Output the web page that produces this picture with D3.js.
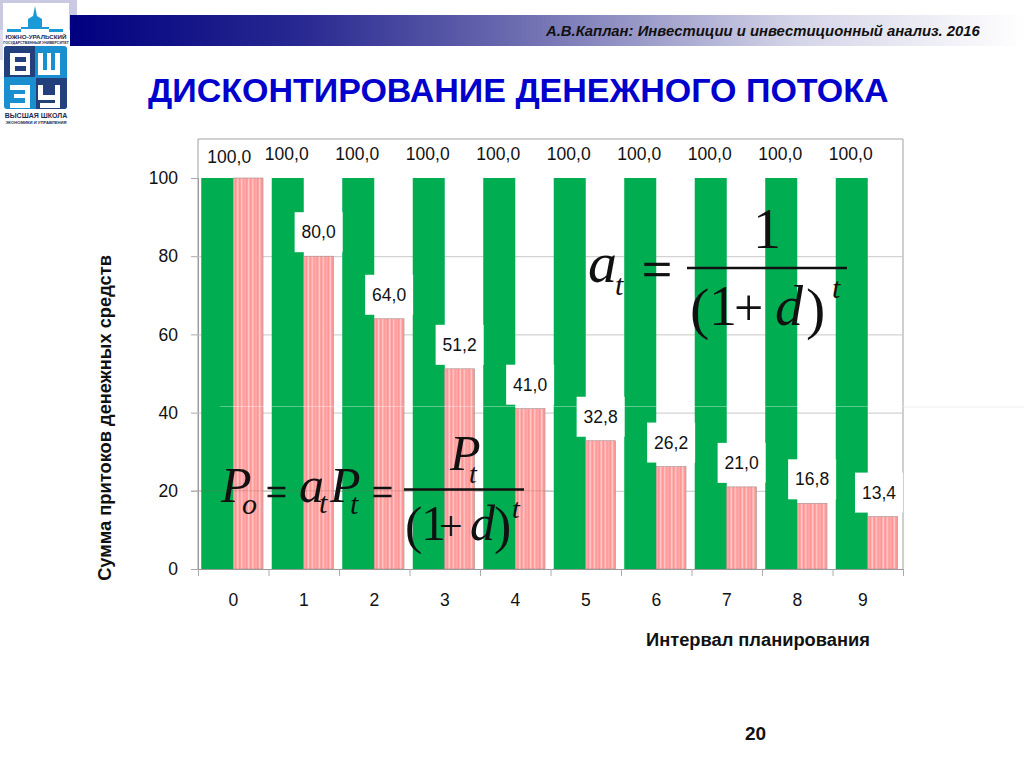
<!DOCTYPE html>
<html lang="ru">
<head>
    <meta charset="UTF-8">
    <title>Дисконтирование денежного потока</title>
    <script src="https://d3js.org/d3.v7.min.js"></script>
    <style>
        body { margin: 0; background: #fff; font-family: "Liberation Sans", Arial, sans-serif; }
        svg { display: block; }
        .tick text { font-family: "Liberation Sans", Arial, sans-serif; font-size: 17.5px; fill: #111; }
        .formula text { font-family: "Liberation Serif", "Times New Roman", serif; fill: #111; }
    </style>
</head>
<body>
    <svg width="1024" height="768"></svg>
    <script>
        // values
        const intervals = [0, 1, 2, 3, 4, 5, 6, 7, 8, 9];
        const inflow = [100, 100, 100, 100, 100, 100, 100, 100, 100, 100];
        const discounted = [100, 80, 64, 51.2, 41, 32.8, 26.2, 21, 16.8, 13.4];
        const yTicks = [0, 20, 40, 60, 80, 100];

        const svg = d3.select("svg");
        const plotLeft = 198, plotRight = 903, plotTop = 139, plotBottom = 569;
        const fmt = v => v.toFixed(1).replace(".", ",");

        const defs = svg.append("defs");
        const band = defs.append("linearGradient").attr("id", "band");
        [[0, "#000080"], [0.25, "#2a2a92"], [0.47, "#6c6cb0"], [0.76, "#d4d4e8"], [1, "#ffffff"]].forEach(s =>
            band.append("stop").attr("offset", s[0]).attr("stop-color", s[1]));

        // striped fill of the discounted bars
        const stripes = defs.append("pattern").attr("id", "stripes")
            .attr("patternUnits", "userSpaceOnUse").attr("width", 11).attr("height", 8);
        stripes.append("rect").attr("width", 11).attr("height", 8).attr("fill", "#ffa8a8");
        [[1, "#ff8f8f"], [3, "#ffd2d2"], [5, "#ff9090"], [7, "#ffc8c8"], [9, "#ff9a9a"]].forEach(s =>
            stripes.append("rect").attr("x", s[0]).attr("width", 1).attr("height", 8).attr("fill", s[1]));

        // header
        svg.append("rect").attr("width", 77).attr("height", 30).attr("fill", "#c9c9e2");
        svg.append("rect").attr("y", 30).attr("width", 10).attr("height", 30).attr("fill", "#dcdcec");
        svg.append("rect").attr("x", 70).attr("y", 15).attr("width", 954).attr("height", 31).attr("fill", "url(#band)");
        svg.append("text").attr("x", 546).attr("y", 36)
            .attr("font-size", 14.85).attr("font-weight", "bold").attr("font-style", "italic").attr("fill", "#111")
            .text("А.В.Каплан: Инвестиции и инвестиционный анализ. 2016");
        svg.append("text").attr("x", 148).attr("y", 102)
            .attr("font-size", 34).attr("font-weight", "bold").attr("fill", "#0000cc")
            .text("ДИСКОНТИРОВАНИЕ ДЕНЕЖНОГО ПОТОКА");

        // logo
        const logo = svg.append("g");
        logo.append("rect").attr("x", 3).attr("y", 3).attr("width", 66).attr("height", 123).attr("fill", "#fff");
        logo.append("path").attr("fill", "#1a9ad6")
            .attr("d", "M7 32H21V27H28V19L33 16L35 6L37 16L42 19V27H49V32H63V29H7Z");
        logo.append("text").attr("x", 36).attr("y", 39).attr("text-anchor", "middle")
            .attr("font-size", 6.2).attr("font-weight", "bold").attr("fill", "#1b2a52").text("ЮЖНО-УРАЛЬСКИЙ");
        logo.append("text").attr("x", 36).attr("y", 44).attr("text-anchor", "middle")
            .attr("font-size", 3.6).attr("font-weight", "bold").attr("fill", "#1b2a52").text("ГОСУДАРСТВЕННЫЙ УНИВЕРСИТЕТ");
        logo.append("rect").attr("x", 4).attr("y", 46).attr("width", 63).attr("height", 63).attr("rx", 3).attr("fill", "#1a8fd0");
        logo.append("path").attr("fill", "#21407c").attr("d", "M4 49Q4 46 7 46H35V77H4Z M36 78H67V106Q67 109 64 109H36Z");
        logo.append("path").attr("fill", "#fff").attr("fill-rule", "evenodd")
            .attr("d", "M10 53H30V75H10Z M15 57V62H26V57Z M15 66V71H26V66Z"
                + "M38 53H43V70H47V53H51V70H55V53H60V75H38Z"
                + "M10 85H30V108H10V103H25V98H14V94H25V90H10Z"
                + "M38 85H43V95H55V85H60V108H40V103H55V100H38Z");
        logo.append("text").attr("x", 36).attr("y", 118).attr("text-anchor", "middle")
            .attr("font-size", 7).attr("font-weight", "bold").attr("fill", "#1b2a52").text("ВЫСШАЯ ШКОЛА");
        logo.append("text").attr("x", 36).attr("y", 124).attr("text-anchor", "middle")
            .attr("font-size", 4.2).attr("font-weight", "bold").attr("fill", "#1b2a52").text("ЭКОНОМИКИ И УПРАВЛЕНИЯ");

        // scales
        const x = d3.scaleBand().domain(intervals).range([plotLeft, plotRight]).paddingInner(0.092).paddingOuter(0.046);
        const series = d3.scaleBand().domain(["inflow", "discounted"]).range([0, x.bandwidth()]);
        const pinkWidth = series.bandwidth() * 0.93;
        const y = d3.scaleLinear().domain([0, 100]).range([plotBottom, 178]);
        const tickPos = d3.scaleLinear().domain([0, intervals.length]).range([plotLeft, plotRight]);

        // frame and grid
        svg.append("path").attr("fill", "none").attr("stroke", "#a0a0a0")
            .attr("d", `M${plotLeft} ${plotBottom}V${plotTop}H${plotRight}V${plotBottom}`);

        const gy = svg.append("g").attr("transform", `translate(${plotLeft},0)`)
            .call(d3.axisLeft(y).tickValues(yTicks).tickSize(7).tickPadding(13));
        gy.select(".domain").attr("stroke", "#999");
        gy.selectAll(".tick line").attr("stroke", "#aaa");
        gy.selectAll(".tick").filter(d => d > 0 && d < 100).append("line")
            .attr("x2", plotRight - plotLeft).attr("stroke", "#c8c8c8");

        // bars
        const groups = svg.selectAll(".bars").data(intervals).enter().append("g")
            .attr("transform", d => `translate(${x(d)},0)`);
        groups.append("rect")
            .attr("x", series("inflow")).attr("width", series.bandwidth())
            .attr("y", (d, i) => y(inflow[i])).attr("height", (d, i) => plotBottom - y(inflow[i]))
            .attr("fill", "#00ad50");
        groups.append("rect")
            .attr("x", series("discounted")).attr("width", pinkWidth)
            .attr("y", (d, i) => y(discounted[i])).attr("height", (d, i) => plotBottom - y(discounted[i]))
            .attr("fill", "url(#stripes)").attr("stroke", "#a58a8a").attr("stroke-width", 0.6);

        // x axis
        const gx = svg.append("g").attr("transform", `translate(0,${plotBottom})`)
            .call(d3.axisBottom(tickPos).tickValues(d3.range(intervals.length + 1)).tickSize(7).tickFormat(""));
        gx.select(".domain").attr("stroke", "#999");
        gx.selectAll(".tick line").attr("stroke", "#aaa");
        const gl = svg.append("g").attr("transform", `translate(0,${plotBottom})`)
            .call(d3.axisBottom(x).tickSize(0).tickPadding(25));
        gl.select(".domain").remove();
        gl.selectAll(".tick text").attr("dx", d => d === 9 ? -5 : 0);

        // data labels; the two 100,0 of the first interval share one label
        const addLabel = (cx, cy, str, boxed) => {
            if (boxed) {
                const bx = Math.min(cx - 24, plotRight - 48);
                svg.append("rect").attr("x", bx).attr("y", cy - 20).attr("width", 48).attr("height", 40).attr("fill", "#fff");
                cx = bx + 24;
            }
            svg.append("text").attr("x", cx).attr("y", cy + 6).attr("text-anchor", "middle")
                .attr("font-size", 17.5).attr("fill", "#111").text(str);
        };
        intervals.forEach((d, i) => {
            const inner = i === 0 ? 12 : -1;
            addLabel(x(d) + series("inflow") + series.bandwidth() / 2 + inner, y(inflow[i]) - (i === 0 ? 21 : 24), fmt(inflow[i]), false);
        });
        intervals.forEach((d, i) => {
            if (i > 0) addLabel(x(d) + series("discounted") + pinkWidth / 2, y(discounted[i]) - 24, fmt(discounted[i]), true);
        });

        // faint pasted-in line across the slide
        svg.append("line").attr("x1", 220).attr("x2", 1024).attr("y1", 406.5).attr("y2", 406.5)
            .attr("stroke", "#fff").attr("stroke-opacity", 0.35).attr("stroke-width", 1);
        svg.append("line").attr("x1", 904).attr("x2", 1024).attr("y1", 407).attr("y2", 407)
            .attr("stroke", "#eee");
        svg.append("line").attr("x1", plotLeft - 7).attr("x2", plotRight - 350).attr("y1", y(20)).attr("y2", y(20))
            .attr("stroke", "#8a6a5a").attr("stroke-opacity", 0.3);

        // axis titles
        svg.append("text").attr("transform", "translate(111,418) rotate(-90)").attr("text-anchor", "middle")
            .attr("font-size", 18.3).attr("font-weight", "bold").attr("fill", "#111")
            .text("Сумма притоков денежных средств");
        svg.append("text").attr("x", 646).attr("y", 646)
            .attr("font-size", 18.3).attr("font-weight", "bold").attr("fill", "#111")
            .text("Интервал планирования");
        svg.append("text").attr("x", 745).attr("y", 740)
            .attr("font-size", 19).attr("font-weight", "bold").attr("fill", "#111").text("20");

        // formulas
        const formula = svg.append("g").attr("class", "formula");
        const put = (tx, ty, size, str, italic) => formula.append("text")
            .attr("x", tx).attr("y", ty).attr("font-size", size)
            .attr("font-style", italic ? "italic" : "normal").text(str);
        const rule = (x1, x2, ly) => formula.append("line")
            .attr("x1", x1).attr("x2", x2).attr("y1", ly).attr("y2", ly)
            .attr("stroke", "#111").attr("stroke-width", 2.4);

        put(588, 282, 58, "a", true);
        put(615, 295, 30, "t", true);
        put(642, 287, 53, "=", false).attr("stroke", "#111").attr("stroke-width", 0.6);
        rule(687, 847, 268);
        put(753, 248, 56, "1", false);
        put(690, 328, 58, "(", false);
        put(709, 325, 56, "1", false);
        put(734, 325, 52, "+", false);
        put(775, 325, 56, "d", true);
        put(806, 328, 58, ")", false);
        put(832, 298, 30, "t", true);

        put(221, 502, 50, "P", true);
        put(242, 514, 30, "o", true);
        put(266, 505, 37, "=", false).attr("stroke", "#111").attr("stroke-width", 0.6);
        put(299, 502, 50, "a", true);
        put(319, 513, 30, "t", true);
        put(330, 502, 50, "P", true);
        put(350, 514, 30, "t", true);
        put(372, 505, 37, "=", false).attr("stroke", "#111").attr("stroke-width", 0.6);
        rule(404, 524, 489.5);
        put(450, 470, 50, "P", true);
        put(469, 483, 28, "t", true);
        put(405, 543, 52, "(", false);
        put(421, 540, 50, "1", false);
        put(439, 540, 42, "+", false);
        put(470, 540, 50, "d", true);
        put(494, 543, 52, ")", false);
        put(512, 518, 28, "t", true);
    </script>
</body>
</html>
